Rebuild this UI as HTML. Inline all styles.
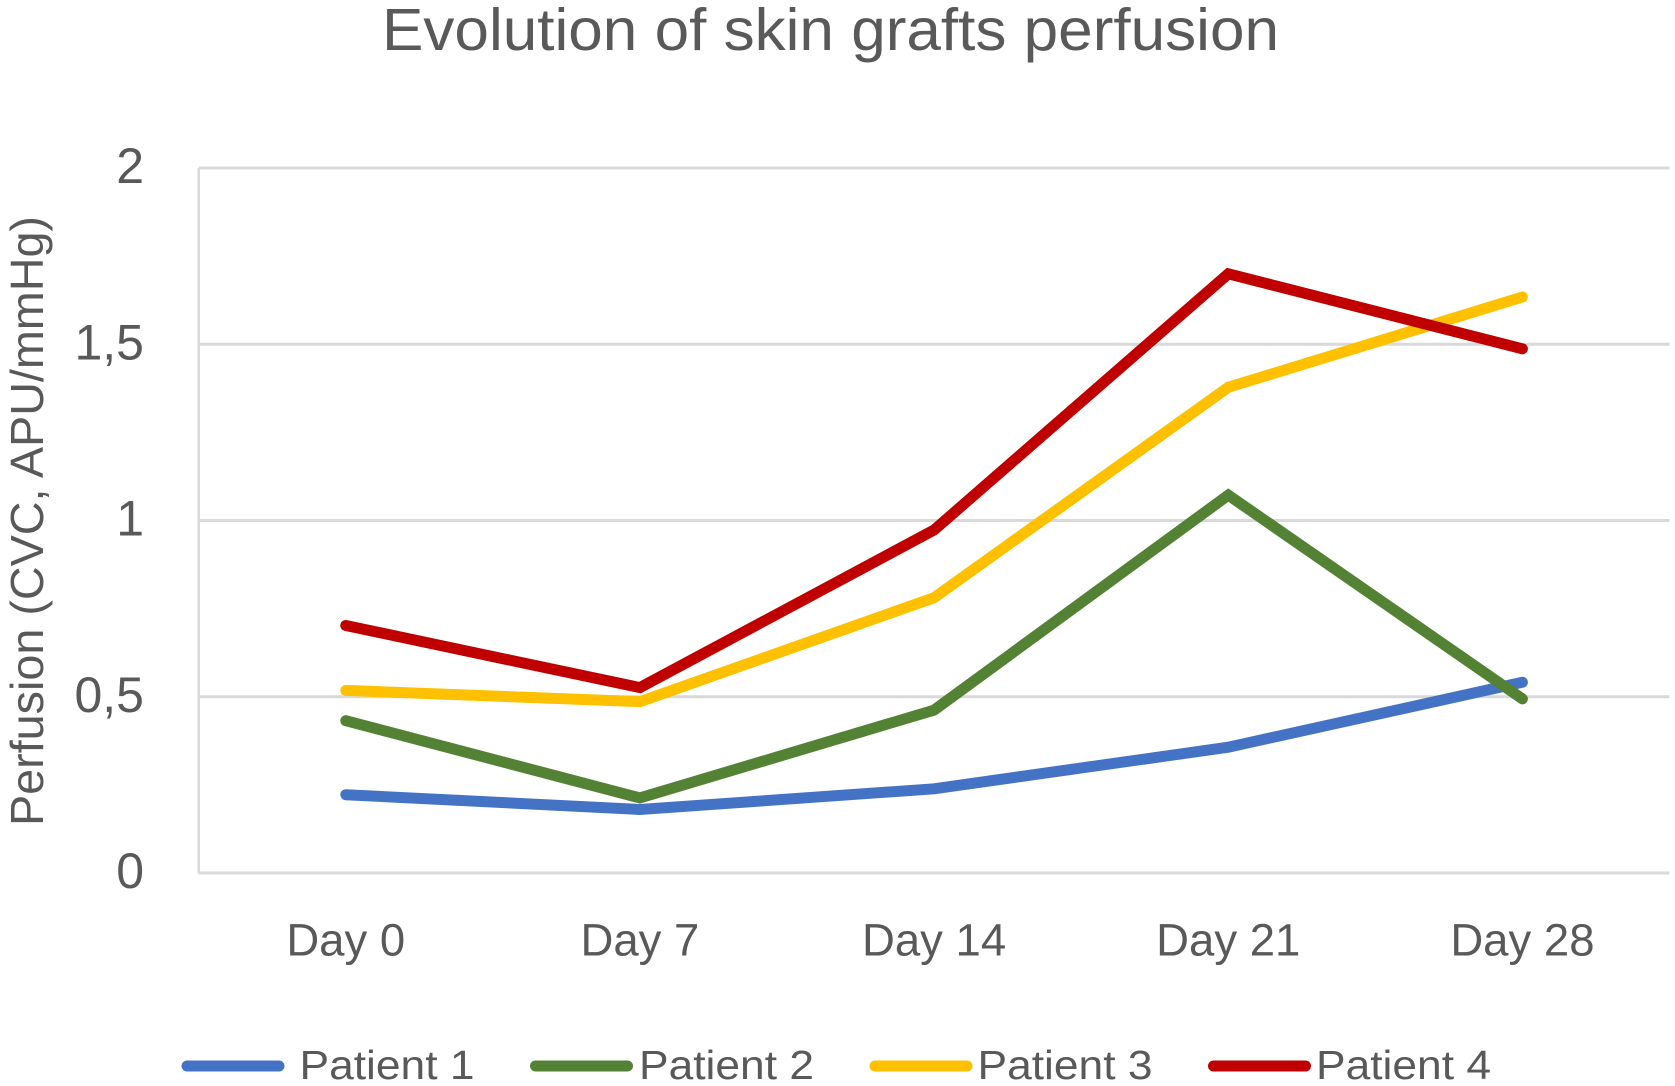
<!DOCTYPE html>
<html lang="en">
<head>
<meta charset="utf-8">
<title>Evolution of skin grafts perfusion</title>
<style>
  html, body { margin: 0; padding: 0; background: #ffffff; }
  body { width: 1675px; height: 1086px; overflow: hidden; }
  svg { display: block; }
  text { font-family: "Liberation Sans", sans-serif; fill: #595959; }
</style>
</head>
<body>
<svg id="chart" xmlns="http://www.w3.org/2000/svg" width="1675" height="1086" viewBox="0 0 1675 1086">
  <rect x="0" y="0" width="1675" height="1086" fill="#ffffff"/>
  <text x="382" y="50" font-size="59" textLength="897" lengthAdjust="spacingAndGlyphs">Evolution of skin grafts perfusion</text>
  <text transform="translate(43,826) rotate(-90)" x="0" y="0" font-size="46" textLength="610" lengthAdjust="spacingAndGlyphs">Perfusion (CVC, APU/mmHg)</text>
  <g id="grid"></g>
  <g id="y-ticks"></g>
  <g id="x-ticks"></g>
  <g id="series"></g>
  <g>
    <g>
      <line x1="187" y1="1066" x2="279" y2="1066" stroke="#4472c4" stroke-width="11" stroke-linecap="round"/>
      <text x="299.5" y="1079" font-size="41" textLength="175" lengthAdjust="spacingAndGlyphs">Patient 1</text>
    </g>
    <g>
      <line x1="535.5" y1="1066" x2="627.5" y2="1066" stroke="#548235" stroke-width="11" stroke-linecap="round"/>
      <text x="639" y="1079" font-size="41" textLength="175" lengthAdjust="spacingAndGlyphs">Patient 2</text>
    </g>
    <g>
      <line x1="875" y1="1066" x2="967" y2="1066" stroke="#ffc000" stroke-width="11" stroke-linecap="round"/>
      <text x="977.5" y="1079" font-size="41" textLength="175" lengthAdjust="spacingAndGlyphs">Patient 3</text>
    </g>
    <g>
      <line x1="1213.5" y1="1066" x2="1305.5" y2="1066" stroke="#c00000" stroke-width="11" stroke-linecap="round"/>
      <text x="1316" y="1079" font-size="41" textLength="175" lengthAdjust="spacingAndGlyphs">Patient 4</text>
    </g>
  </g>
</svg>
<script>
// Chart data
const categories = ['Day 0', 'Day 7', 'Day 14', 'Day 21', 'Day 28'];
const yTickValues = [0, 0.5, 1, 1.5, 2];
const yTickLabels = ['0', '0,5', '1', '1,5', '2'];
const patient1 = [0.222, 0.18, 0.239, 0.357, 0.541];
const patient2 = [0.432, 0.213, 0.462, 1.072, 0.494];
const patient3 = [0.518, 0.486, 0.781, 1.378, 1.634];
const patient4 = [0.702, 0.526, 0.973, 1.70, 1.487];

const NS = 'http://www.w3.org/2000/svg';
const plot = { left: 198.7, right: 1669.5, top: 168, bottom: 873 };
const yMax = 2;

function xScale(i) {
  return plot.left + (i + 0.5) * (plot.right - plot.left) / categories.length;
}
function yScale(v) {
  return plot.bottom - (v / yMax) * (plot.bottom - plot.top);
}

const gridLayer = document.getElementById('grid');
const yLayer = document.getElementById('y-ticks');
const xLayer = document.getElementById('x-ticks');
const seriesLayer = document.getElementById('series');

// Vertical axis line
const axisLine = document.createElementNS(NS, 'line');


axisLine.setAttribute('x1', plot.left);
axisLine.setAttribute('x2', plot.left);
axisLine.setAttribute('y1', plot.top);
axisLine.setAttribute('y2', plot.bottom);
axisLine.setAttribute('stroke', '#d9d9d9');
axisLine.setAttribute('stroke-width', '2.5');
gridLayer.appendChild(axisLine);

// Gridlines and y tick labels
yTickValues.forEach(function (v, i) {
  const line = document.createElementNS(NS, 'line');
  
  
  line.setAttribute('x1', plot.left);
  line.setAttribute('x2', plot.right);
  line.setAttribute('y1', yScale(v));
  line.setAttribute('y2', yScale(v));
  line.setAttribute('stroke', '#d9d9d9');
  line.setAttribute('stroke-width', '3');
  gridLayer.appendChild(line);

  const label = document.createElementNS(NS, 'text');
  
  
  label.setAttribute('x', 144);
  label.setAttribute('y', yScale(v) + 15);
  label.setAttribute('font-size', '50');
  label.setAttribute('text-anchor', 'end');
  label.textContent = yTickLabels[i];
  yLayer.appendChild(label);
});

// X tick labels
categories.forEach(function (c, i) {
  const label = document.createElementNS(NS, 'text');
  
  
  label.setAttribute('x', xScale(i));
  label.setAttribute('y', 955.5);
  label.setAttribute('font-size', '45.5');
  label.setAttribute('text-anchor', 'middle');
  label.textContent = c;
  xLayer.appendChild(label);
});

// Series lines
function drawSeries(values, color, name) {
  const path = document.createElementNS(NS, 'polyline');
  
  
  path.setAttribute('points', values.map(function (v, i) {
    return xScale(i).toFixed(1) + ',' + yScale(v).toFixed(1);
  }).join(' '));
  path.setAttribute('fill', 'none');
  path.setAttribute('stroke', color);
  path.setAttribute('stroke-width', '11');
  path.setAttribute('stroke-linecap', 'round');
  path.setAttribute('stroke-linejoin', 'miter');
  seriesLayer.appendChild(path);
}
drawSeries(patient1, '#4472c4', 'line-patient-1');
drawSeries(patient2, '#548235', 'line-patient-2');
drawSeries(patient3, '#ffc000', 'line-patient-3');
drawSeries(patient4, '#c00000', 'line-patient-4');
</script>
</body>
</html>
